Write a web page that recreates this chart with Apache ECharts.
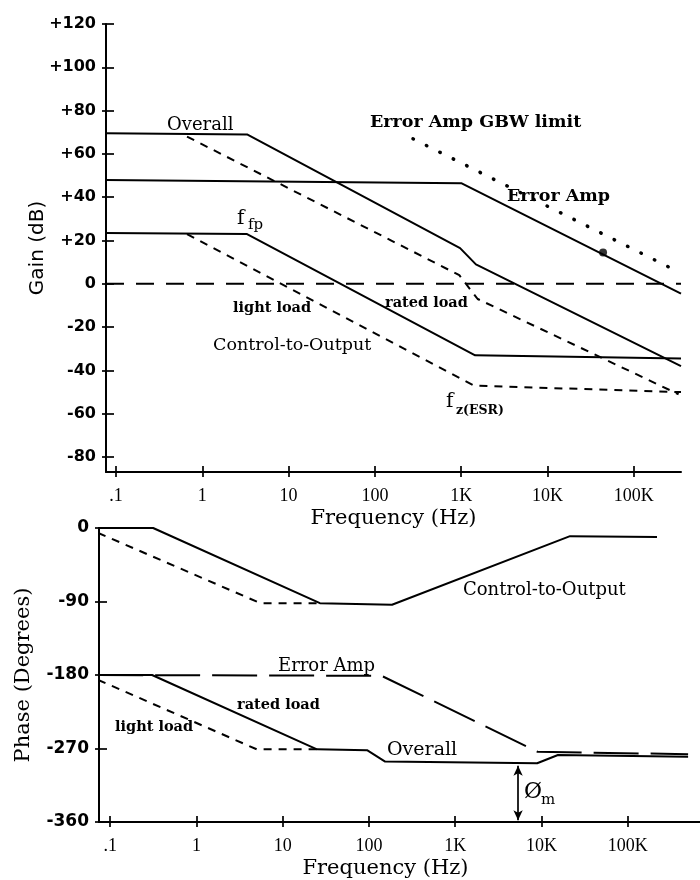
<!DOCTYPE html>
<html><head><meta charset="utf-8">
<script src="https://cdn.jsdelivr.net/npm/echarts@6/dist/echarts.min.js"></script>
<style>html,body{margin:0;padding:0;background:#fff}#chart{width:700px;height:880px}</style>
</head><body><div id="chart"></div>
<script>
// ---------------- data ----------------
const freqTicks = [0.1, 1, 10, 100, 1000, 10000, 100000];
const freqTickLabels = ['.1', '1', '10', '100', '1K', '10K', '100K'];
const gainTicks = [-80, -60, -40, -20, 0, 20, 40, 60, 80, 100, 120];
const gainTickLabels = ['-80', '-60', '-40', '-20', '0', '+20', '+40', '+60', '+80', '+100', '+120'];
const phaseTicks = [-360, -270, -180, -90, 0];
const phaseTickLabels = ['-360', '-270', '-180', '-90', '0'];

// Gain (dB) vs frequency (Hz)
const gainOverall = [[0.0766, 69.5], [3.3, 69], [970, 16.5], [1480, 9], [352000, -38]];
const gainOverallLight = [[0.665, 68], [950, 4], [1550, -7], [330000, -51]];
const gainErrorAmp = [[0.0766, 48], [1000, 46.5], [352000, -4.5]];
const gainErrorAmpGBW = [[276, 67], [330000, 5.5]];
const gainControl = [[0.0766, 23.5], [3.3, 23], [1450, -33], [352000, -34.5]];
const gainControlLight = [[0.665, 23], [1400, -47], [352000, -50]];
const gainZeroRef = [[0.0766, 0], [352000, 0]];
const gainErrorAmpPoint = [[44000, 14.5]];

// Phase (degrees) vs frequency (Hz)
const phaseControl = [[0.0726, 0], [0.315, 0], [27, -92], [185, -94], [21400, -10], [218000, -11]];
const phaseControlLight = [[0.0726, -6], [5.5, -92], [27, -92]];
const phaseErrorAmp = [[0.0726, -180], [140, -181], [9000, -274], [500000, -277]];
const phaseOverall = [[0.0726, -180], [0.306, -180], [25, -271], [95, -272], [154, -286], [8900, -288], [15500, -278], [500000, -280]];
const phaseOverallLight = [[0.0726, -186], [5, -271], [25, -271]];
const phaseMarginArrow = [[5350, -291], [5350, -358]];

// ---------------- chart ----------------
const BLACK = '#000';
const ANN_FONT = '"DejaVu Serif"';

function lookupLabel(v, ticks, labels, isLog) {
  for (let i = 0; i < ticks.length; i++) {
    const a = isLog ? Math.log10(ticks[i]) : ticks[i];
    const b = isLog ? Math.log10(v) : v;
    if (Math.abs(a - b) < 1e-3) return labels[i];
  }
  return '';
}
const freqFmt = v => lookupLabel(v, freqTicks, freqTickLabels, true);
const gainFmt = v => lookupLabel(v, gainTicks, gainTickLabels, false);
const phaseFmt = v => lookupLabel(v, phaseTicks, phaseTickLabels, false);

function freqAxis(gridIndex, min, max, primary, namePad) {
  return {
    gridIndex, type: 'log', logBase: 10, min, max, position: 'bottom',
    axisLine: { show: primary, onZero: false, lineStyle: { color: BLACK, width: 2 } },
    axisTick: { show: true, inside: primary, length: primary ? 6 : 5, customValues: freqTicks,
                lineStyle: { color: BLACK, width: 1.7 } },
    minorTick: { show: false },
    axisLabel: { show: primary, customValues: freqTicks, formatter: freqFmt, margin: 15,
                 color: BLACK, fontFamily: 'Liberation Serif', fontSize: 18 },
    splitLine: { show: false }, minorSplitLine: { show: false },
    name: primary ? 'Frequency (Hz)' : '', nameLocation: 'middle', nameGap: 36, nameMoveOverlap: false,
    nameTextStyle: { color: BLACK, fontFamily: 'DejaVu Serif', fontSize: 21, padding: namePad || 0 },
    silent: true
  };
}
function valAxis(gridIndex, min, max, ticks, fmt, primary, name, nameGap, nameFont, nameSize, labelSize, labelMargin) {
  return {
    gridIndex, type: 'value', min, max, position: 'left',
    axisLine: { show: primary, onZero: false, lineStyle: { color: BLACK, width: 2 } },
    axisTick: { show: true, inside: primary, length: primary ? 8 : 4, customValues: ticks,
                lineStyle: { color: BLACK, width: 1.7 } },
    axisLabel: { show: primary, customValues: ticks, formatter: fmt, margin: labelMargin,
                 color: BLACK, fontFamily: 'DejaVu Sans', fontWeight: 'bold', fontSize: labelSize },
    splitLine: { show: false },
    name: primary ? name : '', nameLocation: 'middle', nameGap, nameMoveOverlap: false,
    nameTextStyle: { color: BLACK, fontFamily: nameFont, fontSize: nameSize },
    silent: true
  };
}

function lineSeries(name, data, xi, yi, dash, width, extra) {
  return Object.assign({
    name, type: 'line', data, xAxisIndex: xi, yAxisIndex: yi,
    showSymbol: false, symbol: 'none', silent: true, animation: false,
    lineStyle: { color: BLACK, width: width || 2, type: dash || 'solid' }
  }, extra || {});
}

const textItems = [
  // top panel
  { text: 'Overall', x: 167, y: 125, size: 18, weight: 'normal' },
  { text: 'Error Amp GBW limit', x: 370, y: 122, size: 17.5, weight: 'bold' },
  { text: 'Error Amp', x: 507, y: 196, size: 17.5, weight: 'bold' },
  { text: 'light load', x: 233, y: 308, size: 14.5, weight: 'bold' },
  { text: 'rated load', x: 385, y: 303, size: 14.5, weight: 'bold' },
  { text: 'Control-to-Output', x: 213, y: 345, size: 17.5, weight: 'normal' },
  { text: 'f', x: 237, y: 219, size: 20, weight: 'normal' },
  { text: 'fp', x: 248, y: 225, size: 15, weight: 'normal' },
  { text: 'f', x: 446, y: 402, size: 20, weight: 'normal' },
  { text: 'z(ESR)', x: 456, y: 411, size: 12.5, weight: 'bold' },
  // bottom panel
  { text: 'Control-to-Output', x: 463, y: 590, size: 18, weight: 'normal' },
  { text: 'Error Amp', x: 278, y: 666, size: 18, weight: 'normal' },
  { text: 'rated load', x: 237, y: 705, size: 14.5, weight: 'bold' },
  { text: 'light load', x: 115, y: 727, size: 14.5, weight: 'bold' },
  { text: 'Overall', x: 387, y: 750, size: 19, weight: 'normal' },
  { text: '\u00D8', x: 524, y: 792, size: 22, weight: 'normal' },
  { text: 'm', x: 541, y: 800, size: 15, weight: 'normal' }
];

const chart = echarts.init(document.getElementById('chart'), null, { renderer: 'canvas' });
chart.setOption({
  animation: false,
  backgroundColor: '#fff',
  grid: [
    { left: 106, top: 24, width: 575, height: 448, containLabel: false, outerBoundsMode: 'none' },
    { left: 99, top: 528, width: 601, height: 294, containLabel: false, outerBoundsMode: 'none' }
  ],
  xAxis: [
    freqAxis(0, 0.0766, 352000, true),
    freqAxis(0, 0.0766, 352000, false),
    freqAxis(1, 0.0743, 687000, true, [0, 28, 0, 0]),
    freqAxis(1, 0.0743, 687000, false)
  ],
  yAxis: [
    valAxis(0, -86.9, 120, gainTicks, gainFmt, true, 'Gain (dB)', 58, 'DejaVu Sans', 20, 16, 10),
    valAxis(0, -86.9, 120, gainTicks, gainFmt, false, '', 0, 'DejaVu Sans', 20, 16, 10),
    valAxis(1, -360, 0, phaseTicks, phaseFmt, true, 'Phase (Degrees)', 65, 'DejaVu Serif', 21, 17, 10),
    valAxis(1, -360, 0, phaseTicks, phaseFmt, false, '', 0, 'DejaVu Serif', 21, 17, 10)
  ],
  series: [
    lineSeries('Gain: 0 dB', gainZeroRef, 0, 0, [18, 12], 2),
    lineSeries('Gain: Overall', gainOverall, 0, 0),
    lineSeries('Gain: Overall (light load)', gainOverallLight, 0, 0, [8, 7]),
    lineSeries('Gain: Error Amp', gainErrorAmp, 0, 0),
    lineSeries('Gain: Error Amp GBW limit', gainErrorAmpGBW, 0, 0, [0.5, 14.5], 3.5),
    lineSeries('Gain: Control-to-Output', gainControl, 0, 0),
    lineSeries('Gain: Control-to-Output (light load)', gainControlLight, 0, 0, [8, 7]),
    { name: 'Gain: Error Amp point', type: 'scatter', data: gainErrorAmpPoint, xAxisIndex: 0, yAxisIndex: 0,
      symbol: 'circle', symbolSize: 8, itemStyle: { color: BLACK }, silent: true, animation: false },
    lineSeries('Phase: Control-to-Output', phaseControl, 2, 2),
    lineSeries('Phase: Control-to-Output (light load)', phaseControlLight, 2, 2, [8, 7]),
    lineSeries('Phase: Error Amp', phaseErrorAmp, 2, 2, [45, 12]),
    lineSeries('Phase: Overall', phaseOverall, 2, 2, 'solid', 2, {
      markLine: {
        silent: true, animation: false, symbol: ['arrow', 'arrow'], symbolSize: [7, 10],
        label: { show: false }, lineStyle: { color: BLACK, width: 1.7, type: 'solid' },
        data: [[{ coord: phaseMarginArrow[0] }, { coord: phaseMarginArrow[1] }]]
      }
    }),
    lineSeries('Phase: Overall (light load)', phaseOverallLight, 2, 2, [8, 7])
  ],
  graphic: textItems.map(t => ({
    type: 'text', x: t.x, y: t.y, silent: true,
    style: { text: t.text, fill: BLACK, font: `${t.weight} ${t.size}px ${ANN_FONT}`,
             align: 'left', verticalAlign: 'middle' }
  }))
});
// round dots for the GBW limit line
const opt = chart.getOption();
opt.series[4].lineStyle.cap = 'round';
chart.setOption({ series: opt.series });
</script></body></html>
